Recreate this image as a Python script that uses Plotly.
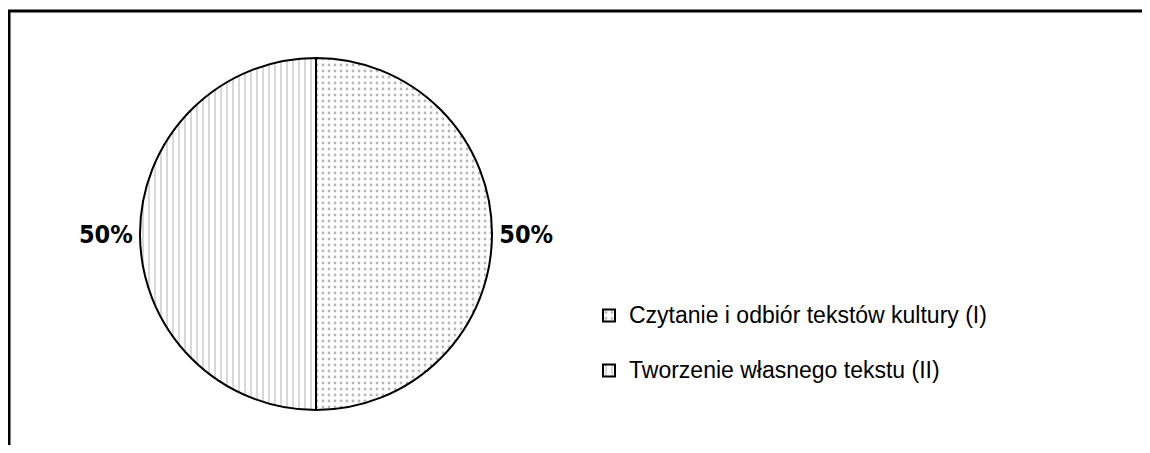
import plotly.graph_objects as go

# strona ma margines 8 px, wiec figura jest mniejsza i przesunieta
OX, OY = 8, 8
W, H = 1150 - 2 * OX, 453 - 2 * OY

etykiety = ["Czytanie i odbiór tekstów kultury (I)", "Tworzenie własnego tekstu (II)"]
wartosci = [50, 50]
wzory = [".", "|"]


def px_x(sx):
    return (sx - OX) / W


def px_y(sy):
    return 1 - (sy - OY) / H


fig = go.Figure()

fig.add_trace(go.Pie(
    labels=[f'<span style="font-size:23px">{e}</span><br> ' for e in etykiety],
    values=wartosci,
    sort=False,
    direction="clockwise",
    rotation=0,
    textinfo="percent",
    textposition="outside",
    outsidetextfont=dict(family="DejaVu Sans Condensed", size=25, color="black", weight="bold"),
    marker=dict(
        colors=["white", "white"],
        line=dict(color="black", width=2),
        pattern=dict(shape=wzory, size=6, solidity=0.18,
                     fgcolor="#707070", bgcolor="white", fillmode="overlay"),
    ),
    domain=dict(x=[px_x(80), px_x(552)], y=[px_y(410), px_y(58)]),
    hoverinfo="percent",
))

# ramka wykresu (gora i lewa krawedz)
fig.add_shape(type="path", xref="paper", yref="paper",
              path=f"M {1 / W},-0.05 L {1 / W},{px_y(11)} L 1.05,{px_y(11)}",
              line=dict(color="black", width=3))

fig.update_layout(
    width=W, height=H,
    margin=dict(l=0, r=0, t=0, b=0, autoexpand=False),
    paper_bgcolor="white",
    plot_bgcolor="white",
    font=dict(family="Liberation Sans, Arial", color="black"),
    showlegend=True,
    legend=dict(
        x=px_x(589), y=px_y(296), xanchor="left", yanchor="top",
        font=dict(size=20, family="Liberation Sans, Arial", color="black"),
        valign="top",
        itemclick=False,
    ),
)

fig.write_html("out.html")
